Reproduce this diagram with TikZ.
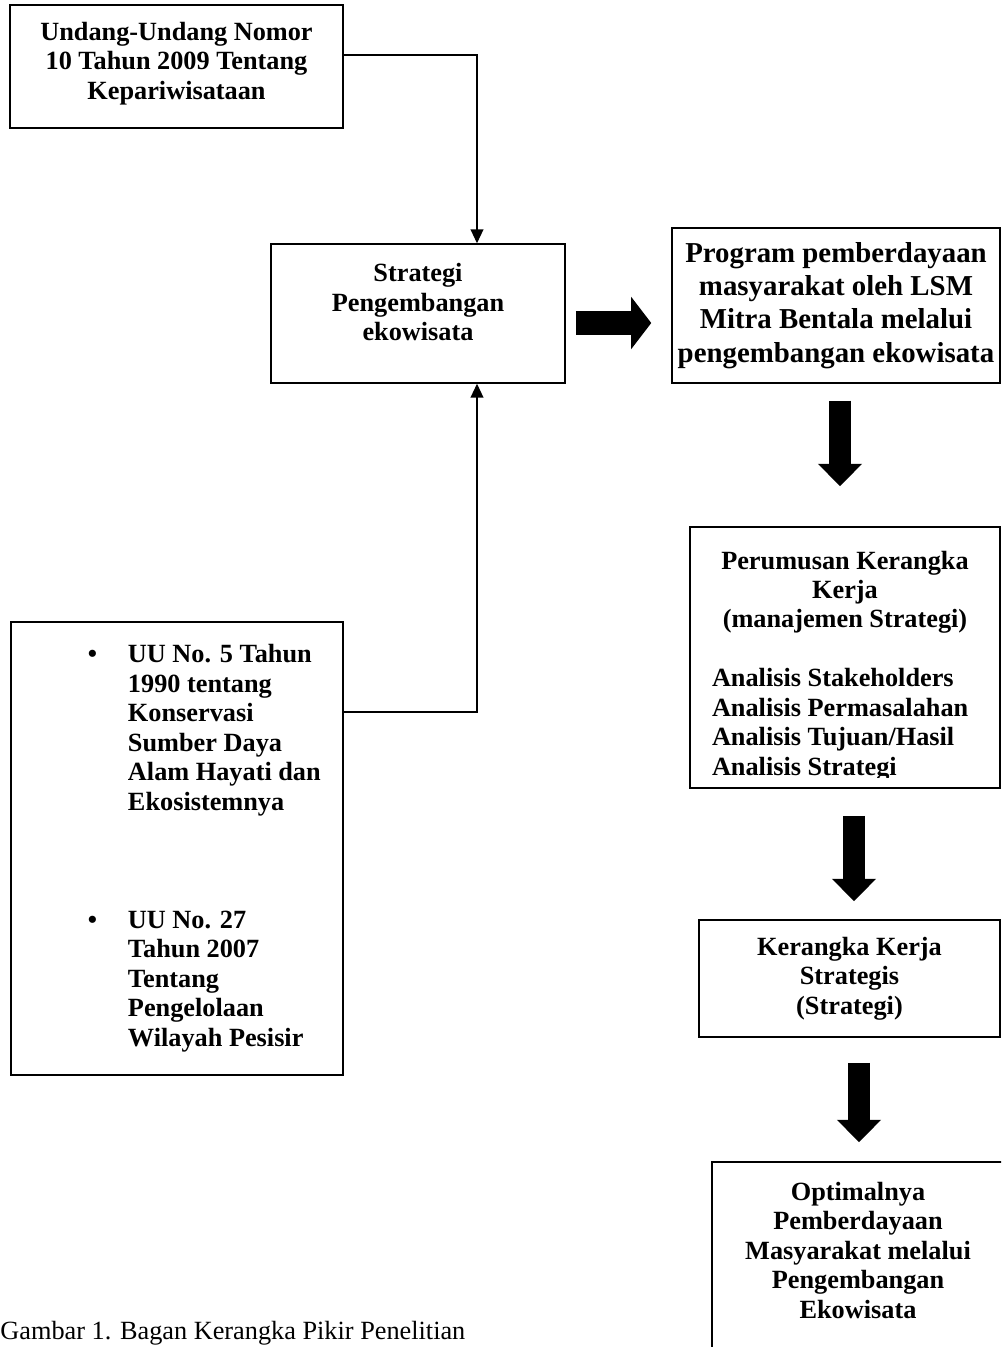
\documentclass[tikz,border=0pt]{standalone}
\usepackage{fontspec}
\setmainfont{Liberation Serif}
\usetikzlibrary{positioning, arrows.meta}

\newlength\pxu
\setlength\pxu{0.468pt}
\newcommand\anline[1]{\makebox[266\pxu][l]{#1}}

\begin{document}
\begin{tikzpicture}[
    x=0.468pt, y=-0.468pt,
    boxtext/.style={align=center, inner sep=0pt, font=\bfseries\fontsize{12.3}{13.8}\selectfont},
    box/.style={draw, line width=0.7pt, rectangle, boxtext},
    link/.style={-{Triangle[length=6.5pt, width=6pt]}, line width=0.6pt},
    bigarrow/.style={line width=10pt, -{Triangle[length=10.5pt, width=20pt]}}
]
\useasboundingbox (0,0) rectangle (1001,1347);
\clip (0,0) rectangle (1001,1347);

% Left column
\node[box, minimum width=333\pxu, minimum height=123\pxu, text depth=12\pxu] (uu10) at (176.5,66.5)
    {Undang-Undang Nomor\\10 Tahun 2009 Tentang\\Kepariwisataan};
\node[box, minimum width=294\pxu, minimum height=139\pxu, text depth=23\pxu] (strat) at (418,313.5)
    {Strategi\\Pengembangan\\ekowisata};
\node[box, minimum width=332\pxu, minimum height=453\pxu] (uu5) at (177,848.5) {%
    \begin{tabular}{@{\hspace{72\pxu}}p{40\pxu}@{}p{210\pxu}@{}}
    \textbullet & UU No. 5 Tahun\\
     & 1990 tentang\\
     & Konservasi\\
     & Sumber Daya\\
     & Alam Hayati dan\\
     & Ekosistemnya\\[41.4pt]
    \textbullet & UU No. 27\\
     & Tahun 2007\\
     & Tentang\\
     & Pengelolaan\\
     & Wilayah Pesisir
    \end{tabular}};

% Right column
\node[box, minimum width=328\pxu, minimum height=155\pxu, font=\bfseries\fontsize{13.5}{15.5}\selectfont] (prog) at (836,305.5)
    {Program pemberdayaan\\masyarakat oleh LSM\\Mitra Bentala melalui\\pengembangan ekowisata};
\node[box, minimum width=310\pxu, minimum height=261\pxu] (perum) at (845,657.5) {};
\begin{scope}
    \clip (perum.north west) rectangle ([yshift=11\pxu]perum.south east);
    \node[boxtext] (perumtxt) at (845,666)
        {Perumusan Kerangka\\Kerja\\(manajemen Strategi)\\[13.8pt]
         \anline{Analisis Stakeholders}\\\anline{Analisis Permasalahan}\\
         \anline{Analisis Tujuan/Hasil}\\\anline{Analisis Strategi}};
\end{scope}
\node[box, minimum width=301\pxu, minimum height=117\pxu] (kerja) at (849.5,978.5)
    {Kerangka Kerja\\Strategis\\(Strategi)};
\node[box, minimum width=292\pxu, minimum height=200\pxu, text depth=24\pxu] (optim) at (858,1262)
    {Optimalnya\\Pemberdayaan\\Masyarakat melalui\\Pengembangan\\Ekowisata};

% Caption
\node[anchor=base west, inner sep=0pt, font=\fontsize{12.3}{13.8}\selectfont] (caption) at (0,1339)
    {Gambar 1. Bagan Kerangka Pikir Penelitian};

% Connectors
\draw[link] ([yshift=11.5\pxu]uu10.east) -| ([xshift=59\pxu]strat.north);
\draw[link] ([yshift=136.5\pxu]uu5.east) -| ([xshift=59\pxu]strat.south);

% Block arrows
\draw[bigarrow, line width=11.2pt, -{Triangle[length=9.4pt, width=24pt]}, shorten <=10\pxu, shorten >=20\pxu]
    ([yshift=-9.5\pxu]strat.east) -- ([yshift=-9.5\pxu]strat.east -| prog.west);
\draw[bigarrow, shorten <=17\pxu, shorten >=40\pxu]
    ([xshift=4\pxu]prog.south) -- ([xshift=4\pxu]prog.south |- perum.north);
\draw[bigarrow, shorten <=27\pxu, shorten >=18\pxu]
    ([xshift=9\pxu]perum.south) -- ([xshift=9\pxu]perum.south |- kerja.north);
\draw[bigarrow, shorten <=25\pxu, shorten >=19\pxu]
    ([xshift=9.5\pxu]kerja.south) -- ([xshift=9.5\pxu]kerja.south |- optim.north);

\end{tikzpicture}
\end{document}
